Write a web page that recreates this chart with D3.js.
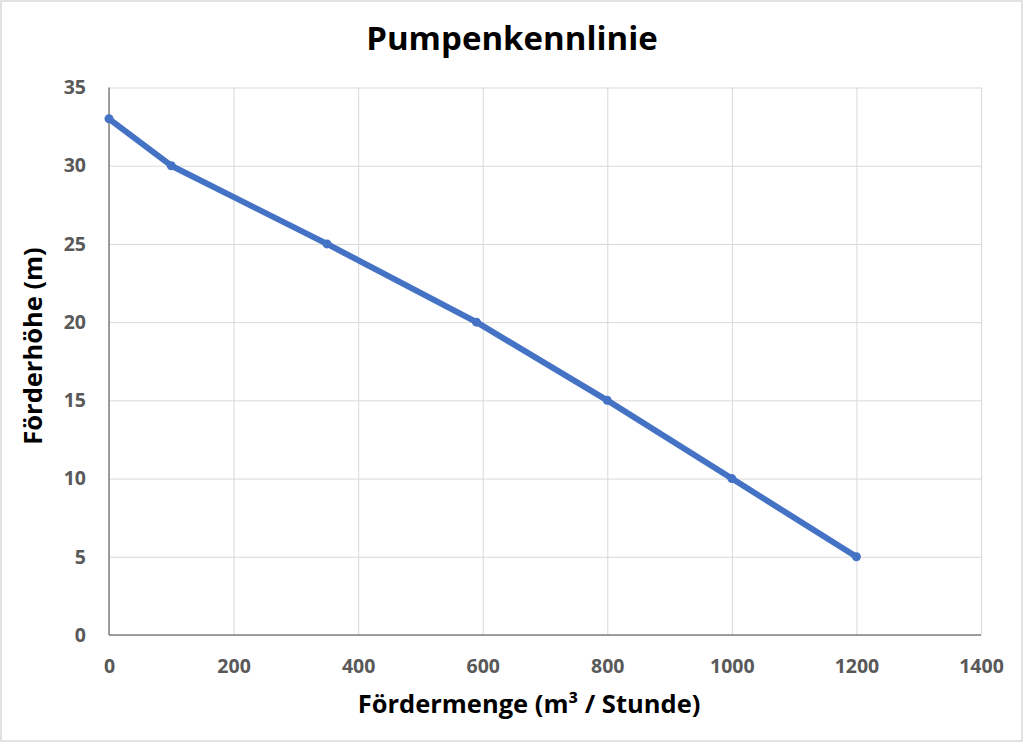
<!DOCTYPE html>
<html>
<head>
<meta charset="utf-8">
<script src="https://cdn.jsdelivr.net/npm/d3@7"></script>
<style>
  html, body { margin: 0; padding: 0; background: #fff; }
  svg { display: block; }
</style>
</head>
<body>
<div id="chart"></div>
<script>
// Pumpenkennlinie data
const foerdermenge = [0, 100, 350, 590, 800, 1000, 1200];
const foerderhoehe = [33, 30, 25, 20, 15, 10, 5];
const xTicks = [0, 200, 400, 600, 800, 1000, 1200, 1400];
const yTicks = [0, 5, 10, 15, 20, 25, 30, 35];

const width = 1024;
const height = 743;
const margin = { top: 87.5, right: 43, bottom: 108, left: 109 };
const innerWidth = width - margin.left - margin.right;
const innerHeight = height - margin.top - margin.bottom;
const font = "'Open Sans', 'Noto Sans', sans-serif";

const svg = d3
  .select("#chart")
  .append("svg")
  .attr("width", width)
  .attr("height", height);

// outer chart border
svg
  .append("rect")
  .attr("x", 1)
  .attr("y", 1)
  .attr("width", width - 3)
  .attr("height", height - 3)
  .attr("fill", "#fff")
  .attr("stroke", "#d9d9d9")
  .attr("stroke-width", 1.5);

const g = svg
  .append("g")
  .attr("transform", `translate(${margin.left},${margin.top})`);

const x = d3.scaleLinear().domain([0, 1400]).range([0, innerWidth]);
const y = d3.scaleLinear().domain([0, 35]).range([innerHeight, 0]);

// gridlines (no labels)
g.append("g")
  .call(d3.axisLeft(y).tickValues(yTicks).tickSize(-innerWidth).tickFormat(""))
  .call((s) => s.select(".domain").remove())
  .call((s) => s.selectAll("text").remove())
  .selectAll("line")
  .attr("stroke", "#d9d9d9")
  .attr("stroke-width", 1);

g.append("g")
  .attr("transform", `translate(0,${innerHeight})`)
  .call(d3.axisBottom(x).tickValues(xTicks).tickSize(-innerHeight).tickFormat(""))
  .call((s) => s.select(".domain").remove())
  .call((s) => s.selectAll("text").remove())
  .selectAll("line")
  .attr("stroke", "#d9d9d9")
  .attr("stroke-width", 1);

// axis lines
g.append("line")
  .attr("x1", 0).attr("x2", 0)
  .attr("y1", 0).attr("y2", innerHeight)
  .attr("stroke", "#808080")
  .attr("stroke-width", 1.5);

g.append("line")
  .attr("x1", 0).attr("x2", innerWidth)
  .attr("y1", innerHeight).attr("y2", innerHeight)
  .attr("stroke", "#808080")
  .attr("stroke-width", 1.5);

// tick labels
const yAxis = g
  .append("g")
  .call(
    d3.axisLeft(y).tickValues(yTicks).tickFormat(d3.format("d")).tickSize(0).tickPadding(23)
  );
yAxis.select(".domain").remove();
yAxis
  .selectAll("text")
  .attr("font-family", font)
  .attr("font-size", "19.5px")
  .attr("font-weight", "bold")
  .attr("fill", "#595959");

const xAxis = g
  .append("g")
  .attr("transform", `translate(0,${innerHeight})`)
  .call(
    d3.axisBottom(x).tickValues(xTicks).tickFormat(d3.format("d")).tickSize(0).tickPadding(24)
  );
xAxis.select(".domain").remove();
xAxis
  .selectAll("text")
  .attr("font-family", font)
  .attr("font-size", "19.5px")
  .attr("font-weight", "bold")
  .attr("fill", "#595959");

// line + markers
const points = foerdermenge.map((q, i) => ({ q: q, h: foerderhoehe[i] }));

g.append("path")
  .datum(points)
  .attr("fill", "none")
  .attr("stroke", "#4472c4")
  .attr("stroke-width", 6)
  .attr("stroke-linejoin", "round")
  .attr(
    "d",
    d3
      .line()
      .x((d) => x(d.q))
      .y((d) => y(d.h))
  );

g.selectAll("circle.pt")
  .data(points)
  .enter()
  .append("circle")
  .attr("class", "pt")
  .attr("cx", (d) => x(d.q))
  .attr("cy", (d) => y(d.h))
  .attr("r", 4.5)
  .attr("fill", "#4472c4");

// title
svg
  .append("text")
  .attr("x", 512)
  .attr("y", 50)
  .attr("text-anchor", "middle")
  .attr("font-family", font)
  .attr("font-size", "33px")
  .attr("font-weight", "bold")
  .attr("fill", "#000")
  .text("Pumpenkennlinie");

// x-axis label
svg
  .append("text")
  .attr("x", 529)
  .attr("y", 713)
  .attr("text-anchor", "middle")
  .attr("font-family", font)
  .attr("font-size", "25.5px")
  .attr("font-weight", "bold")
  .attr("fill", "#000")
  .text("Fördermenge (m³ / Stunde)");

// y-axis label
svg
  .append("text")
  .attr("transform", "translate(42,346) rotate(-90)")
  .attr("text-anchor", "middle")
  .attr("font-family", font)
  .attr("font-size", "25.5px")
  .attr("font-weight", "bold")
  .attr("fill", "#000")
  .text("Förderhöhe (m)");
</script>
</body>
</html>
